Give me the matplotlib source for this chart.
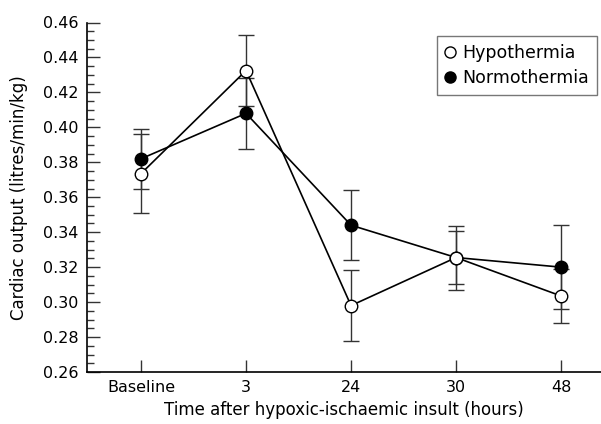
import matplotlib
matplotlib.use("Agg")
import matplotlib.pyplot as plt
from matplotlib.ticker import MultipleLocator, FormatStrFormatter
from matplotlib.lines import Line2D

categories = ["Baseline", "3", "24", "30", "48"]
hypo_mean = [0.3735, 0.4325, 0.298, 0.3255, 0.3035]
hypo_err = [0.0225, 0.0205, 0.0205, 0.0183, 0.0155]
normo_mean = [0.382, 0.408, 0.344, 0.3255, 0.320]
normo_err = [0.017, 0.0205, 0.020, 0.015, 0.024]

plt.rcParams['font.family'] = ['DejaVu Sans']

fig = plt.figure(figsize=(6.01, 4.24), dpi=100)
ax = fig.add_axes([87/601, 1-372/424, 1-87/601, (372-22.5)/424])

x = list(range(len(categories)))

ax.errorbar(x, normo_mean, yerr=normo_err, fmt='none', ecolor='#333333',
            elinewidth=1.0, capsize=6, capthick=1.0, zorder=2)
ax.errorbar(x, hypo_mean, yerr=hypo_err, fmt='none', ecolor='#333333',
            elinewidth=1.0, capsize=6, capthick=1.0, zorder=2)
ax.plot(x, normo_mean, color='black', lw=1.2, marker='o', ms=9,
        mfc='black', mec='black', mew=1, zorder=3, label='Normothermia')
ax.plot(x, hypo_mean, color='black', lw=1.2, marker='o', ms=9,
        mfc='white', mec='black', mew=1, zorder=4, label='Hypothermia')

ax.set_xlim(-0.514, 4.38)
ax.set_ylim(0.26, 0.46)
ax.set_xticks(x)
ax.set_xticklabels(categories)
ax.yaxis.set_major_locator(MultipleLocator(0.02))
ax.yaxis.set_minor_locator(MultipleLocator(0.005))
ax.yaxis.set_major_formatter(FormatStrFormatter('%.2f'))
ax.tick_params(axis='both', which='major', direction='in', length=9, width=1,
               labelsize=11.5, color='#333333')
ax.tick_params(axis='y', which='minor', direction='in', length=5, width=1,
               color='#333333')
ax.tick_params(axis='x', pad=6)
ax.tick_params(axis='y', pad=6)
for s in ['top', 'right']:
    ax.spines[s].set_visible(False)
for s in ['left', 'bottom']:
    ax.spines[s].set_linewidth(1.2)

ax.set_xlabel('Time after hypoxic-ischaemic insult (hours)', fontsize=12, labelpad=4)
ax.set_ylabel('Cardiac output (litres/min/kg)', fontsize=12)
ax.yaxis.set_label_coords(-0.115, 0.5)

handles = [Line2D([], [], ls='none', marker='o', ms=8, mfc='white', mec='black'),
           Line2D([], [], ls='none', marker='o', ms=8, mfc='black', mec='black')]
leg = ax.legend(handles, ['Hypothermia', 'Normothermia'], loc='upper right',
                bbox_to_anchor=(1-4/514, 1-13.5/349), fontsize=12.5, frameon=True,
                fancybox=False, edgecolor='#555555', handlelength=0.6,
                handletextpad=0.4, borderpad=0.45, labelspacing=0.4,
                borderaxespad=0)
leg.get_frame().set_linewidth(1.0)

fig.savefig('out.png', dpi=100)
